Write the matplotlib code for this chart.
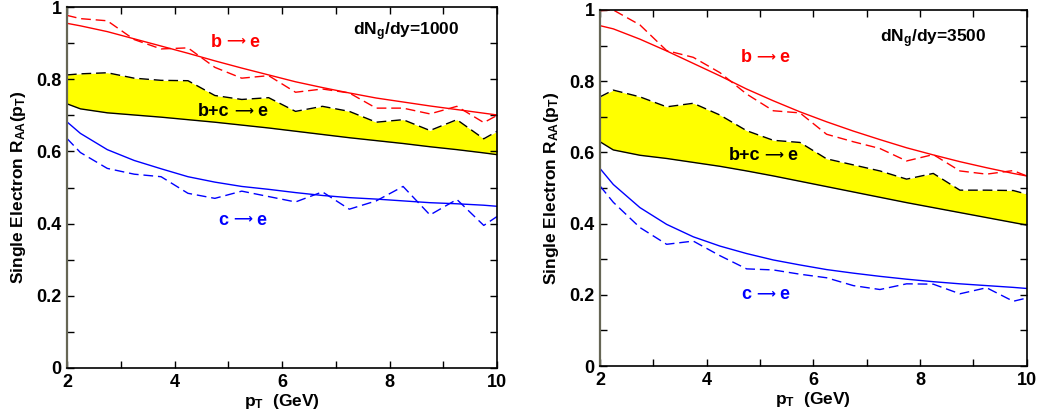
import matplotlib.pyplot as plt
from matplotlib.ticker import MultipleLocator

plt.rcParams['font.family'] = ['Liberation Sans', 'DejaVu Sans']
plt.rcParams['font.weight'] = 'bold'
plt.rcParams['mathtext.fontset'] = 'custom'
plt.rcParams['mathtext.rm'] = 'Liberation Sans:bold'
plt.rcParams['mathtext.it'] = 'Liberation Sans:bold'
plt.rcParams['mathtext.bf'] = 'Liberation Sans:bold'

# p_T grid (GeV)
pt = [2, 2.25, 2.75, 3.25, 3.75, 4.25, 4.75, 5.25, 5.75, 6.25,
      6.75, 7.25, 7.75, 8.25, 8.75, 9.25, 9.75, 10]

# dN_g/dy = 1000
b_solid_1000 = [0.955, 0.948, 0.932, 0.912, 0.892, 0.872, 0.851, 0.831, 0.812, 0.793,
                0.777, 0.762, 0.748, 0.737, 0.726, 0.716, 0.706, 0.701]
b_dash_1000 = [0.977, 0.968, 0.962, 0.910, 0.884, 0.887, 0.833, 0.803, 0.810, 0.764,
               0.773, 0.762, 0.720, 0.720, 0.704, 0.725, 0.680, 0.700]
bc_lo_1000 = [0.732, 0.718, 0.707, 0.701, 0.695, 0.688, 0.681, 0.673, 0.665, 0.656,
              0.647, 0.638, 0.630, 0.622, 0.613, 0.605, 0.596, 0.591]
bc_hi_1000 = [0.812, 0.815, 0.818, 0.803, 0.797, 0.796, 0.755, 0.744, 0.749, 0.711,
              0.725, 0.711, 0.681, 0.688, 0.658, 0.688, 0.635, 0.656]
c_solid_1000 = [0.682, 0.650, 0.605, 0.575, 0.552, 0.530, 0.515, 0.503, 0.495, 0.486,
                0.478, 0.472, 0.468, 0.463, 0.458, 0.455, 0.451, 0.448]
c_dash_1000 = [0.636, 0.597, 0.553, 0.537, 0.530, 0.484, 0.470, 0.490, 0.475, 0.460,
               0.488, 0.440, 0.463, 0.503, 0.424, 0.467, 0.395, 0.420]

# dN_g/dy = 3500
b_solid_3500 = [0.956, 0.947, 0.918, 0.885, 0.850, 0.815, 0.778, 0.745, 0.714, 0.686,
                0.660, 0.636, 0.613, 0.593, 0.574, 0.557, 0.541, 0.534]
b_dash_3500 = [0.998, 1.000, 0.958, 0.886, 0.867, 0.824, 0.764, 0.717, 0.711, 0.651,
               0.630, 0.611, 0.576, 0.594, 0.548, 0.539, 0.549, 0.534]
bc_lo_3500 = [0.630, 0.607, 0.592, 0.583, 0.572, 0.561, 0.548, 0.534, 0.519, 0.504,
              0.489, 0.474, 0.459, 0.445, 0.431, 0.417, 0.403, 0.396]
bc_hi_3500 = [0.756, 0.775, 0.756, 0.728, 0.738, 0.705, 0.661, 0.634, 0.628, 0.582,
              0.565, 0.548, 0.525, 0.541, 0.494, 0.494, 0.493, 0.483]
c_solid_3500 = [0.555, 0.510, 0.445, 0.398, 0.363, 0.337, 0.316, 0.298, 0.284, 0.271,
                0.261, 0.252, 0.244, 0.237, 0.231, 0.226, 0.221, 0.218]
c_dash_3500 = [0.506, 0.460, 0.389, 0.342, 0.351, 0.310, 0.273, 0.270, 0.258, 0.248,
               0.226, 0.215, 0.231, 0.230, 0.203, 0.220, 0.182, 0.191]

# labels: (left part, colour, arrow centre x, text centre y)
labels_1000 = [("b", "#ff0000", 5.13, 0.903), ("b+c", "black", 5.28, 0.71),
               ("c", "#0000ff", 5.26, 0.41)]
labels_3500 = [("b", "#ff0000", 5.10, 0.866), ("b+c", "black", 5.26, 0.59),
               ("c", "#0000ff", 5.10, 0.20)]

panels = [
    ("1000", b_solid_1000, b_dash_1000, bc_lo_1000, bc_hi_1000, c_solid_1000, c_dash_1000,
     labels_1000, (8.31, 0.932)),
    ("3500", b_solid_3500, b_dash_3500, bc_lo_3500, bc_hi_3500, c_solid_3500, c_dash_3500,
     labels_3500, (8.24, 0.92)),
]

fig = plt.figure(figsize=(10.38, 4.16), dpi=100)
boxes = [[0.0645, 0.1154, 0.4145, 0.8676], [0.578, 0.120, 0.411, 0.856]]
dash = (0, (7, 3.5))

for box, (dn, b_s, b_d, lo, hi, c_s, c_d, labs, dpos) in zip(boxes, panels):
    ax = fig.add_axes(box)
    ax.fill_between(pt, lo, hi, color='#ffff00', lw=0)
    ax.plot(pt, lo, color='black', lw=1.0)
    ax.plot(pt, hi, color='black', lw=1.0, linestyle=dash)
    ax.plot(pt, b_s, color='#ff0000', lw=1.0)
    ax.plot(pt, b_d, color='#ff0000', lw=1.0, linestyle=dash)
    ax.plot(pt, c_s, color='#0000ff', lw=1.0)
    ax.plot(pt, c_d, color='#0000ff', lw=1.0, linestyle=dash)

    for left, col, xc, yc in labs:
        ax.annotate(left, (xc, yc), xytext=(-10, 0), textcoords='offset points',
                    color=col, fontsize=13, fontweight='bold', ha='right', va='center')
        ax.annotate(r'$\longrightarrow$', (xc, yc), xytext=(0, 0.5), textcoords='offset points',
                    color=col, fontsize=9.5, math_fontfamily='dejavusans',
                    ha='center', va='center')
        ax.annotate('e', (xc, yc), xytext=(10, 0), textcoords='offset points',
                    color=col, fontsize=13, fontweight='bold', ha='left', va='center')

    ax.text(*dpos, r'dN$_\mathregular{g}$/dy=' + dn, color='black', fontsize=12.5,
            fontweight='bold', ha='center', va='center')

    ax.set_xlim(2, 10)
    ax.set_ylim(0, 1)
    ax.xaxis.set_major_locator(MultipleLocator(2))
    ax.xaxis.set_minor_locator(MultipleLocator(1))
    ax.yaxis.set_major_locator(MultipleLocator(0.2))
    ax.yaxis.set_minor_locator(MultipleLocator(0.1))
    ax.xaxis.set_major_formatter(plt.FuncFormatter(lambda v, p: '%g' % v))
    ax.yaxis.set_major_formatter(plt.FuncFormatter(lambda v, p: '%g' % v))
    ax.tick_params(which='both', direction='in', top=True, right=True,
                   length=5, width=1, labelsize=13, pad=4)
    for lab in ax.get_xticklabels() + ax.get_yticklabels():
        lab.set_fontweight('bold')
    for s in ax.spines.values():
        s.set_linewidth(1.2)
    ax.spines['left'].set_color('#666655')
    ax.spines['left'].set_linewidth(1.6)
    ax.set_xlabel(r'p$_\mathregular{T}$  (GeV)', fontsize=12.5, fontweight='bold', labelpad=1)
    ax.set_ylabel(r'Single Electron R$_\mathregular{AA}$(p$_\mathregular{T}$)',
                  fontsize=12.5, fontweight='bold', labelpad=6)

fig.savefig('out.png', dpi=100)
